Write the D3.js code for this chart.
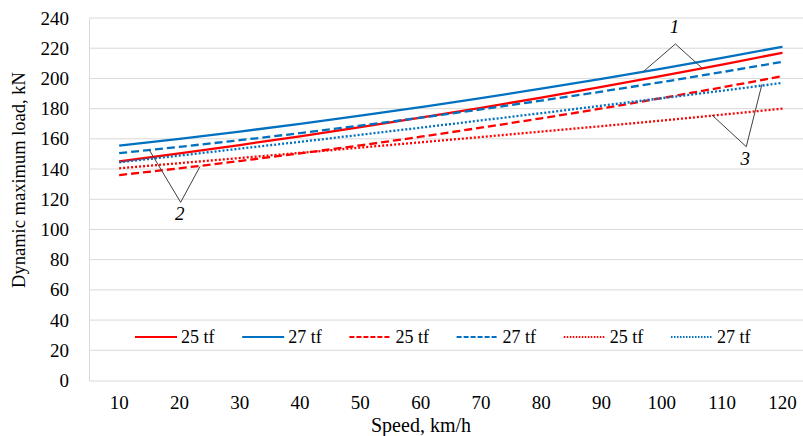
<!DOCTYPE html>
<html><head><meta charset="utf-8">
<script src="https://cdn.jsdelivr.net/npm/d3@7"></script>
<style>body{margin:0;background:#fff} svg{display:block;overflow:hidden}
svg text{font-family:"Liberation Serif","Times New Roman",Tinos,"DejaVu Serif",serif !important;}</style>
</head><body><svg id="c" width="803" height="436"></svg>
<script>
// ---- data ----
const speeds = [10,20,30,40,50,60,70,80,90,100,110,120];
const yTicks = [0,20,40,60,80,100,120,140,160,180,200,220,240];
const red25Solid  = [145.0,150.3,155.9,161.7,167.7,174.0,180.5,187.3,194.4,201.7,209.2,217.0];
const blue27Solid = [155.5,160.0,164.8,169.9,175.3,181.0,186.9,193.2,199.7,206.5,213.6,221.0];
const red25Dash   = [136.0,140.5,145.3,150.4,155.7,161.4,167.4,173.6,180.1,187.0,194.1,201.5];
const blue27Dash  = [150.5,154.7,159.1,163.8,168.8,174.0,179.5,185.3,191.3,197.6,204.2,211.0];
const red25Dot    = [140.5,143.9,147.3,150.7,154.2,157.7,161.2,164.8,168.4,172.1,176.0,180.0];
const blue27Dot   = [144.5,148.9,153.5,158.0,162.7,167.4,172.2,177.0,181.9,186.9,191.9,197.0];
const seriesLabels = ["25 tf","27 tf","25 tf","27 tf","25 tf","27 tf"];
const xTitle = "Speed, km/h";
const yTitle = "Dynamic maximum load, kN";
// annotation leader lines in data units: [speed, value]
const annLabels = ["1","2","3"];
const annApex  = [[102.25,222.8],[20.2,118.0],[114.0,154.8]];
const annLeft  = [[96.9,204.4],[15.0,152.6],[108.3,175.8]];
const annRight = [[106.7,206.7],[23.4,141.6],[116.6,196.1]];

// ---- styles ----
const RED = "#ff0000", BLUE = "#0070c0";
const styles = [
  {c:RED, d:null}, {c:BLUE, d:null},
  {c:RED, d:"8,4"}, {c:BLUE, d:"8,4"},
  {c:RED, d:"2,2"}, {c:BLUE, d:"2,2"}
];
const series = [red25Solid, blue27Solid, red25Dash, blue27Dash, red25Dot, blue27Dot];

const svg = d3.select("#c");
const mLeft = 89, bw = 60.3, mTop = 18, mBottom = 380.5;
const x = d3.scaleBand().domain(speeds).range([mLeft, mLeft + bw*speeds.length]);
const xc = d => x(d) + x.bandwidth()/2;
const xl = d3.scaleLinear().domain([10,120]).range([xc(10), xc(120)]);
const y = d3.scaleLinear().domain([0,240]).range([mBottom, mTop]);

// gridlines
svg.append("g").selectAll("line").data(yTicks.filter(t=>t>0)).join("line")
  .attr("x1", mLeft).attr("x2", mLeft + bw*speeds.length)
  .attr("y1", d=>y(d)).attr("y2", d=>y(d))
  .attr("stroke", "#d9d9d9").attr("stroke-width", 1);

// axes
const yAxis = svg.append("g").attr("transform", `translate(${mLeft},0)`)
  .call(d3.axisLeft(y).tickValues(yTicks).tickSize(0).tickPadding(20));
yAxis.select(".domain").attr("stroke", "#d9d9d9");
yAxis.selectAll("text").attr("font-size", 19).attr("fill", "#000");

const xAxis = svg.append("g").attr("transform", `translate(0,${mBottom})`)
  .call(d3.axisBottom(x).tickSize(0).tickPadding(15));
xAxis.select(".domain").attr("stroke", "#d9d9d9");
xAxis.selectAll("text").attr("font-size", 19).attr("fill", "#000");

// lines
const line = d3.line().x((d,i)=>xc(speeds[i])).y(d=>y(d)).curve(d3.curveMonotoneX);
series.forEach((s,i)=>{
  svg.append("path").datum(s).attr("d", line)
    .attr("fill","none").attr("stroke", styles[i].c).attr("stroke-width", 2.3)
    .attr("stroke-dasharray", styles[i].d);
});

// annotations
annLabels.forEach((lab,i)=>{
  const pts = [annLeft[i], annApex[i], annRight[i]];
  svg.append("path")
    .attr("d", d3.line().x(p=>xl(p[0])).y(p=>y(p[1]))(pts))
    .attr("fill","none").attr("stroke","#404040").attr("stroke-width",1);
  const ax = xl(annApex[i][0]), ay = y(annApex[i][1]);
  svg.append("text").text(lab)
    .attr("x", ax - 1).attr("y", i===0 ? ay - 11 : ay + 18)
    .attr("text-anchor","middle")
    .attr("font-style","italic").attr("font-size",19).attr("fill","#000");
});

// legend
const legY = 337, legX0 = 135, legStep = 107.2, legLen = 42;
const leg = svg.append("g");
seriesLabels.forEach((lab,i)=>{
  const lx = legX0 + i*legStep;
  leg.append("line").attr("x1",lx).attr("x2",lx+legLen).attr("y1",legY).attr("y2",legY)
    .attr("stroke",styles[i].c).attr("stroke-width",2)
    .attr("stroke-dasharray", i>=4 ? "1.5,1.5" : styles[i].d ? "5,2" : null);
  leg.append("text").text(lab).attr("x",lx+legLen+4).attr("y",legY+6)
    .attr("font-size",18).attr("fill","#000");
});

// titles
svg.append("text").text(xTitle).attr("x", 421).attr("y", 432)
  .attr("text-anchor","middle").attr("font-size",20).attr("fill","#000");
svg.append("text").text(yTitle)
  .attr("transform","translate(25,180) rotate(-90)")
  .attr("text-anchor","middle").attr("font-size",18.5).attr("fill","#000");
</script>
</body></html>
